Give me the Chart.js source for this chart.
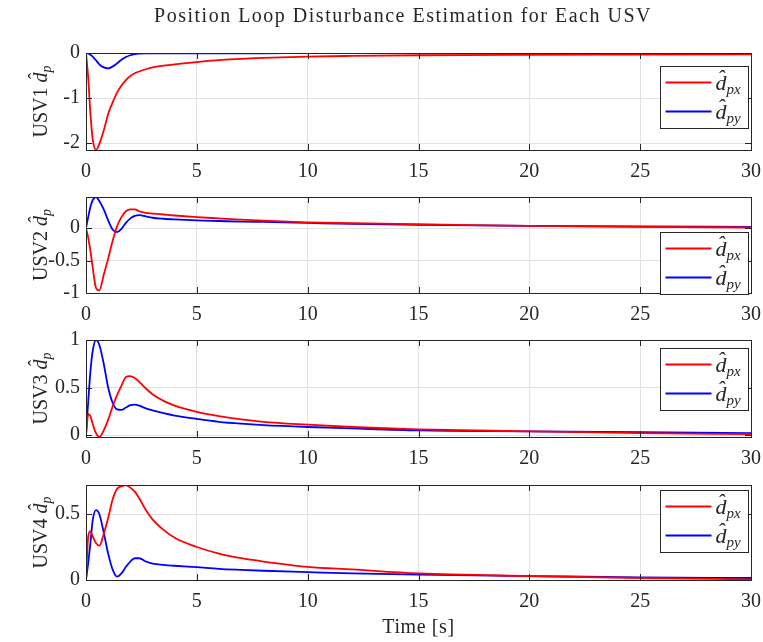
<!DOCTYPE html>
<html>
<head>
<meta charset="utf-8">
<script src="https://cdn.jsdelivr.net/npm/chart.js@4.4.1/dist/chart.umd.min.js"></script>
<style>
  body { margin: 0; background: #fff; }
  #wrap { position: relative; width: 763px; height: 642px; }
  canvas { position: absolute; left: 0; }
</style>
</head>
<body>
<div id="wrap"></div>
<script>
// --- data ---
const time = [0, 0.1, 0.2, 0.3, 0.45, 0.6, 0.8, 1.0, 1.2, 1.4, 1.6, 1.8, 2.0, 2.2, 2.4, 2.7, 3.0, 3.5, 4, 5, 6, 7, 8, 10, 12, 15, 20, 25, 30];

const usv1X = [0, -0.55, -1.35, -1.9, -2.15, -2.02, -1.72, -1.35, -1.1, -0.88, -0.72, -0.6, -0.51, -0.45, -0.41, -0.36, -0.32, -0.28, -0.25, -0.2, -0.16, -0.13, -0.11, -0.08, -0.065, -0.05, -0.04, -0.035, -0.03];
const usv1Y = [0, -0.01, -0.04, -0.08, -0.16, -0.25, -0.32, -0.34, -0.3, -0.23, -0.15, -0.09, -0.05, -0.025, -0.015, -0.01, -0.01, -0.008, -0.007, -0.006, -0.005, -0.005, -0.005, -0.004, -0.004, -0.003, -0.003, -0.003, -0.003];

const usv2X = [0, -0.15, -0.35, -0.6, -0.92, -0.96, -0.72, -0.47, -0.2, 0.03, 0.17, 0.26, 0.29, 0.29, 0.26, 0.235, 0.225, 0.21, 0.195, 0.17, 0.15, 0.13, 0.115, 0.09, 0.075, 0.06, 0.035, 0.02, 0.01];
const usv2Y = [0, 0.17, 0.33, 0.43, 0.48, 0.42, 0.29, 0.12, -0.02, -0.06, -0.01, 0.08, 0.15, 0.19, 0.2, 0.18, 0.16, 0.145, 0.135, 0.12, 0.11, 0.1, 0.095, 0.08, 0.065, 0.05, 0.035, 0.025, 0.02];

const usv3X = [0, 0.22, 0.2, 0.12, 0.02, -0.02, 0.05, 0.16, 0.3, 0.42, 0.52, 0.61, 0.62, 0.6, 0.56, 0.49, 0.43, 0.36, 0.31, 0.245, 0.2, 0.165, 0.14, 0.11, 0.085, 0.06, 0.04, 0.02, 0.01];
const usv3Y = [0, 0.35, 0.67, 0.88, 1.0, 0.95, 0.75, 0.5, 0.34, 0.27, 0.265, 0.29, 0.315, 0.32, 0.31, 0.28, 0.26, 0.23, 0.205, 0.17, 0.14, 0.12, 0.105, 0.085, 0.07, 0.05, 0.04, 0.03, 0.02];

const usv4X = [0, 0.33, 0.37, 0.33, 0.28, 0.26, 0.35, 0.47, 0.61, 0.69, 0.71, 0.72, 0.7, 0.67, 0.62, 0.53, 0.46, 0.38, 0.32, 0.25, 0.2, 0.165, 0.14, 0.1, 0.08, 0.05, 0.03, 0.015, 0.005];
const usv4Y = [0, 0.13, 0.28, 0.45, 0.53, 0.5, 0.36, 0.2, 0.08, 0.025, 0.05, 0.1, 0.14, 0.165, 0.165, 0.14, 0.125, 0.115, 0.108, 0.097, 0.085, 0.077, 0.07, 0.06, 0.05, 0.04, 0.03, 0.02, 0.015];

const usvNames = ["USV1", "USV2", "USV3", "USV4"];
const seriesX = [usv1X, usv2X, usv3X, usv4X];
const seriesY = [usv1Y, usv2Y, usv3Y, usv4Y];

const xTicks = [0, 5, 10, 15, 20, 25, 30];
const yTicks = [[-2, -1, 0], [-1, -0.5, 0], [0, 0.5, 1], [0, 0.5]];
const yMin = [-2.15, -1.0, -0.02, 0];
const yMax = [0, 0.48, 1.0, 0.72];

const titleText = "Position Loop Disturbance Estimation for Each USV";
const xLabel = "Time [s]";

// --- layout (page pixels) ---
const plotTop = [53, 197, 340, 485];
const plotBottom = [150, 293, 437, 580];
const canvasTop = [0, 172, 315, 460];
const canvasBottom = [185, 328, 472, 642];
const legendOffset = [13, 35, 8, 5];
const PLOT_LEFT = 86;
const PLOT_RIGHT = 751;
const W = 763;

const FONT = "'Liberation Serif', 'DejaVu Serif', serif";
const INK = "#262626";

function mathLabel(ctx, x, y, parts, align) {
  // parts: [{text, size, italic, dy}]
  let total = 0;
  for (const p of parts) {
    ctx.font = `${p.italic ? "italic " : ""}${p.size}px ${FONT}`;
    p.w = ctx.measureText(p.text).width;
    total += p.w;
  }
  let cx = align === "center" ? x - total / 2 : x;
  ctx.textAlign = "left";
  ctx.textBaseline = "alphabetic";
  for (const p of parts) {
    ctx.font = `${p.italic ? "italic " : ""}${p.size}px ${FONT}`;
    ctx.fillText(p.text, cx, y + (p.dy || 0));
    cx += p.w;
  }
}

const decor = {
  id: "decor",
  afterDraw(chart, args, opts) {
    const { ctx, chartArea: a, scales } = chart;
    const i = opts.index;
    ctx.save();

    // box + inward ticks
    ctx.strokeStyle = INK;
    ctx.lineWidth = 1;
    ctx.strokeRect(Math.round(a.left) + 0.5, Math.round(a.top) + 0.5,
      Math.round(a.right - a.left), Math.round(a.bottom - a.top));
    ctx.beginPath();
    for (const v of xTicks) {
      const px = Math.round(scales.x.getPixelForValue(v)) + 0.5;
      ctx.moveTo(px, a.top); ctx.lineTo(px, a.top + 6);
      ctx.moveTo(px, a.bottom); ctx.lineTo(px, a.bottom - 6);
    }
    for (const v of yTicks[i]) {
      const py = Math.round(scales.y.getPixelForValue(v)) + 0.5;
      ctx.moveTo(a.left, py); ctx.lineTo(a.left + 6, py);
      ctx.moveTo(a.right, py); ctx.lineTo(a.right - 6, py);
    }
    ctx.stroke();

    // y label, rotated
    ctx.fillStyle = INK;
    ctx.save();
    ctx.translate(47, (a.top + a.bottom) / 2);
    ctx.rotate(-Math.PI / 2);
    mathLabel(ctx, 0, 0, [
      { text: usvNames[i] + " ", size: 20 },
      { text: "d\u0302", size: 20, italic: true },
      { text: "p", size: 14, italic: true, dy: 4 },
    ], "center");
    ctx.restore();

    // legend
    const bw = 88, bh = 62;
    const bx = Math.round(a.right - 3 - bw) + 0.5;
    const by = Math.round(a.top + legendOffset[i]) + 0.5;
    ctx.fillStyle = "#fff";
    ctx.fillRect(bx, by, bw, bh);
    ctx.strokeStyle = INK;
    ctx.strokeRect(bx, by, bw, bh);
    const rows = [["px", "#ff0000"], ["py", "#0000ff"]];
    rows.forEach(([sub, col], k) => {
      const ly = by + 16 + k * 29;
      ctx.strokeStyle = col;
      ctx.lineWidth = 2;
      ctx.beginPath();
      ctx.moveTo(bx + 5, ly); ctx.lineTo(bx + 51, ly);
      ctx.stroke();
      ctx.fillStyle = INK;
      mathLabel(ctx, bx + 55, ly + 7, [
        { text: "d\u0302", size: 22, italic: true },
        { text: sub, size: 15, italic: true, dy: 4 },
      ], "left");
    });

    // figure title and x label
    ctx.fillStyle = INK;
    ctx.textAlign = "center";
    ctx.textBaseline = "middle";
    if (i === 0) {
      ctx.font = `20px ${FONT}`;
      ctx.letterSpacing = "1.5px";
      ctx.fillText(titleText, 403, 17);
      ctx.letterSpacing = "0px";
    }
    if (i === 3) {
      ctx.font = `20px ${FONT}`;
      ctx.letterSpacing = "0.6px";
      ctx.fillText(xLabel, (a.left + a.right) / 2, 628 - canvasTop[3]);
      ctx.letterSpacing = "0px";
    }
    ctx.restore();
  },
};

const wrap = document.getElementById("wrap");

for (let i = 0; i < 4; i++) {
  const H = canvasBottom[i] - canvasTop[i];
  const canvas = document.createElement("canvas");
  canvas.width = W;
  canvas.height = H;
  canvas.style.top = canvasTop[i] + "px";
  wrap.appendChild(canvas);

  const padTop = plotTop[i] - canvasTop[i];
  const xHeight = H - (plotBottom[i] - canvasTop[i]);

  new Chart(canvas, {
    type: "line",
    data: {
      labels: time,
      datasets: [
        { label: "dpx", data: seriesX[i], borderColor: "#ff0000" },
        { label: "dpy", data: seriesY[i], borderColor: "#0000ff" },
      ],
    },
    options: {
      responsive: false,
      animation: false,
      layout: { padding: { top: padTop, right: W - PLOT_RIGHT, left: 0, bottom: 0 } },
      elements: {
        point: { radius: 0 },
        line: { borderWidth: 1.8, cubicInterpolationMode: "monotone", fill: false },
      },
      plugins: {
        legend: { display: false },
        tooltip: { enabled: false },
        decor: { index: i },
      },
      scales: {
        x: {
          type: "linear",
          min: 0,
          max: 30,
          afterBuildTicks: (s) => { s.ticks = xTicks.map((v) => ({ value: v })); },
          afterFit: (s) => {
            s.height = xHeight;
            s.paddingLeft = 0;
            s.paddingRight = 0;
          },
          grid: { color: "#e2e2e2", drawTicks: false },
          border: { display: false },
          ticks: { font: { family: FONT, size: 20 }, color: INK, padding: 10, maxRotation: 0 },
        },
        y: {
          min: yMin[i],
          max: yMax[i],
          afterBuildTicks: (s) => { s.ticks = yTicks[i].map((v) => ({ value: v })); },
          afterFit: (s) => {
            s.width = PLOT_LEFT;
            s.paddingTop = 0;
            s.paddingBottom = 0;
          },
          grid: { color: "#e2e2e2", drawTicks: false },
          border: { display: false },
          ticks: {
            font: { family: FONT, size: 20 },
            color: INK,
            padding: 6,
            callback: (v) => String(v),
          },
        },
      },
    },
    plugins: [decor],
  });
}
</script>
</body>
</html>
